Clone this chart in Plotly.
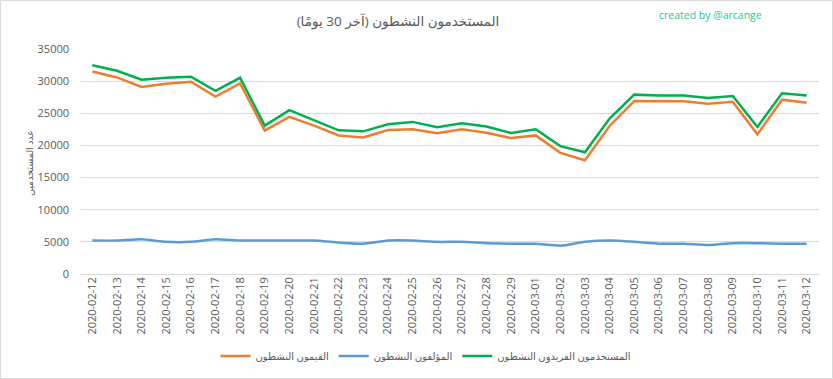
import plotly.graph_objects as go

dates = ["2020-02-12","2020-02-13","2020-02-14","2020-02-15","2020-02-16","2020-02-17",
         "2020-02-18","2020-02-19","2020-02-20","2020-02-21","2020-02-22","2020-02-23",
         "2020-02-24","2020-02-25","2020-02-26","2020-02-27","2020-02-28","2020-02-29",
         "2020-03-01","2020-03-02","2020-03-03","2020-03-04","2020-03-05","2020-03-06",
         "2020-03-07","2020-03-08","2020-03-09","2020-03-10","2020-03-11","2020-03-12"]

curators = [31500, 30580, 29100, 29580, 29900, 27600, 29630, 22300, 24450, 23080,
            21560, 21250, 22400, 22510, 21880, 22510, 21980, 21140, 21560, 18840,
            17690, 23030, 26910, 26860, 26860, 26490, 26800, 21720, 27120, 26650]

authors = [5200, 5200, 5400, 5000, 5000, 5400, 5200, 5200, 5200, 5200,
           4900, 4700, 5200, 5200, 5000, 5000, 4800, 4700, 4700, 4400,
           5000, 5200, 5000, 4700, 4700, 4500, 4800, 4800, 4700, 4700]

unique_users = [32460, 31620, 30210, 30520, 30680, 28480, 30520, 23080, 25490, 23970,
                22350, 22190, 23290, 23660, 22820, 23450, 22930, 21930, 22510, 19890,
                18940, 24180, 27900, 27750, 27750, 27380, 27690, 22870, 28110, 27750]

names = ["القيمون النشطون", "المؤلفون النشطون", "المستخدمون الفريدون النشطون"]
colors = ["#ED7D31", "#5B9BD5", "#00B050"]

title_text = "\u200fالمستخدمون النشطون (آخر 30 يومًا)\u200f"
y_title = "عدد المستخدمين"
credit = "created by @arcange"

FONT = "Open Sans, DejaVu Sans, sans-serif"
W, H = 833, 379
L, R, T, B = 80, 14, 49, 105
pw, ph = W - L - R, H - T - B


def px_x(x):
    return (x - L) / pw


def px_y(y):
    return (H - B - y) / ph


fig = go.Figure()
fig.add_trace(go.Scatter(x=dates, y=curators, name=names[0], mode="lines",
                         line=dict(color=colors[0], width=2.5)))
fig.add_trace(go.Scatter(x=dates, y=authors, name=names[1], mode="lines",
                         line=dict(color=colors[1], width=2.5, shape="spline", smoothing=0.5)))
fig.add_trace(go.Scatter(x=dates, y=unique_users, name=names[2], mode="lines",
                         line=dict(color=colors[2], width=2.5)))

fig.update_layout(
    width=W, height=H,
    margin=dict(l=L, r=R, t=T, b=B, autoexpand=False),
    paper_bgcolor="white", plot_bgcolor="white",
    font=dict(family=FONT, size=11, color="#595959"),
    title=dict(text=title_text, xref="container", x=398 / W, xanchor="center",
               yref="container", y=1 - 21 / H, yanchor="middle",
               font=dict(size=13.5, color="#595959", family=FONT)),
    xaxis=dict(type="category", range=[-0.5, len(dates) - 0.5], tickangle=-90,
               showgrid=False, showline=False, zeroline=False, ticks="", automargin=False,
               tickfont=dict(size=11, color="#595959")),
    yaxis=dict(range=[0, 35000], dtick=5000, tickformat="d", showgrid=True,
               gridcolor="#D9D9D9", gridwidth=1, zeroline=True, zerolinecolor="#D9D9D9",
               zerolinewidth=1, showline=False, ticks="", ticklabelstandoff=10,
               automargin=False, tickfont=dict(size=11, color="#595959")),
    legend=dict(orientation="h", xref="paper", x=px_x(426), xanchor="center",
                yref="paper", y=px_y(356), yanchor="middle",
                font=dict(size=10, color="#595959", family=FONT),
                itemwidth=30, tracegroupgap=0),
    showlegend=True,
)

fig.add_annotation(text=credit, xref="paper", yref="paper",
                   x=px_x(764), xanchor="right", y=px_y(15), yanchor="middle",
                   showarrow=False, font=dict(size=10.5, color="#22C997", family=FONT))

fig.add_annotation(text=y_title, xref="paper", yref="paper",
                   x=px_x(29), xanchor="center", y=px_y(163), yanchor="middle",
                   textangle=-90, showarrow=False,
                   font=dict(size=9.5, color="#595959", family=FONT))

fig.add_shape(type="rect", xref="paper", yref="paper",
              x0=px_x(0.5), x1=px_x(W - 0.5),
              y0=px_y(H - 0.5), y1=px_y(0.5),
              line=dict(color="#D9D9D9", width=1), fillcolor="rgba(0,0,0,0)", layer="below")

fig.write_html("out.html", config={"displayModeBar": False},
               post_script="document.body.style.margin='0';document.body.style.overflow='hidden';")
